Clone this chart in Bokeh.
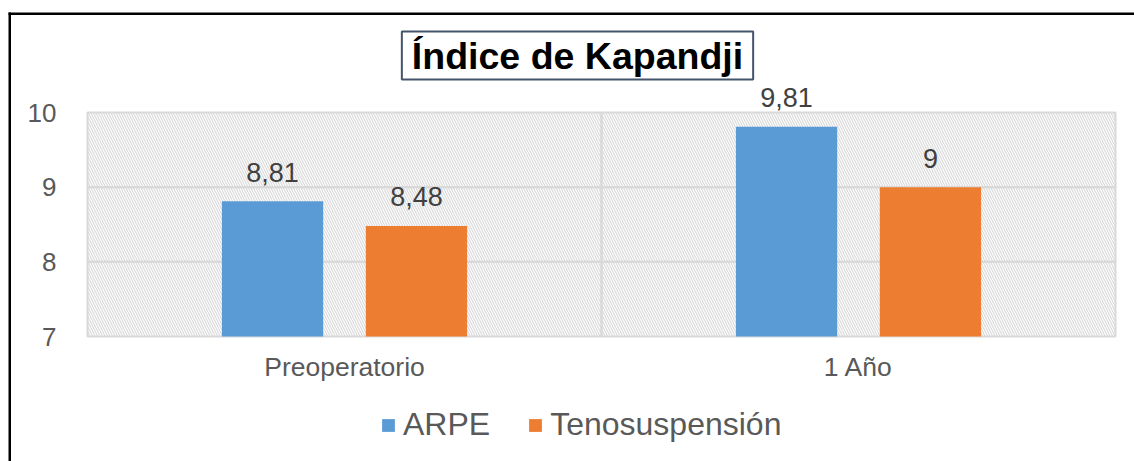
from bokeh.plotting import figure
from bokeh.models import (Range1d, FixedTicker, BoxAnnotation, Label, Legend, LegendItem,
                          ColumnDataSource)
from bokeh.transform import dodge
from bokeh.embed import file_html
from bokeh.resources import INLINE
from bokeh.core.properties import value

categories = ["Preoperatorio", "1 Año"]
series_names = ["ARPE", "Tenosuspensión"]
arpe = [8.81, 9.81]
teno = [8.48, 9.0]
arpe_labels = ["8,81", "9,81"]
teno_labels = ["8,48", "9"]
y_ticks = [7, 8, 9, 10]
colors = ["#5b9bd5", "#ed7d31"]

# ---- layout (pixels) ----
W, H = 1134, 461
PL, PR, PT, PB = 87, 1115, 112, 336          # plot area edges in canvas pixels
n = len(categories)
ymin, ymax = y_ticks[0], y_ticks[-1]
xpp = n / (PR - PL)
ypp = (ymax - ymin) / (PB - PT)
def fx(px):
    return (px - PL) * xpp
def fy(py):
    return ymax - (py - PT) * ypp

xc = [i + 0.5 for i in range(n)]
src = ColumnDataSource(dict(x=xc, arpe=arpe, teno=teno, al=arpe_labels, tl=teno_labels))

p = figure(width=W, height=H, output_backend="svg", toolbar_location=None,
           x_range=Range1d(fx(0), fx(W)), y_range=Range1d(fy(H), fy(0)))
p.min_border = 0
p.min_border_left = p.min_border_right = p.min_border_top = p.min_border_bottom = 0
p.background_fill_color = "white"
p.border_fill_color = "white"
p.outline_line_color = None
p.xgrid.visible = False
p.ygrid.visible = False

FONT = "Liberation Sans"

# hatched plot area cells (category x tick interval) -> gives grid lines and divider
for i in range(n):
    for k in range(len(y_ticks) - 1):
        p.add_layout(BoxAnnotation(left=i, right=i + 1, bottom=y_ticks[k], top=y_ticks[k + 1],
                                   fill_color=None, line_color="#d9d9d9", line_alpha=1,
                                   line_width=2, hatch_pattern="\\", hatch_color="#dadada",
                                   hatch_alpha=1, hatch_scale=5, hatch_weight=1.2,
                                   level="image"))

bw = 0.197
off = 0.14
r1 = p.vbar(x=dodge("x", -off, range=p.x_range), top="arpe", bottom=ymin, width=bw,
            source=src, fill_color=colors[0], line_color=None)
r2 = p.vbar(x=dodge("x", off, range=p.x_range), top="teno", bottom=ymin, width=bw,
            source=src, fill_color=colors[1], line_color=None)
p.text(x=dodge("x", -off, range=p.x_range), y="arpe", text="al", source=src, y_offset=-29,
       text_align="center", text_baseline="alphabetic", text_font=value(FONT),
       text_font_size="27px", text_color="#404040")
p.text(x=dodge("x", off, range=p.x_range), y="teno", text="tl", source=src, y_offset=-29,
       text_align="center", text_baseline="alphabetic", text_font=value(FONT),
       text_font_size="27px", text_color="#404040")

# axes drawn at the plot-area edges
p.yaxis.fixed_location = 0
p.yaxis.ticker = FixedTicker(ticks=y_ticks)
p.yaxis.axis_line_color = None
p.yaxis.major_tick_line_color = None
p.yaxis.minor_tick_line_color = None
p.yaxis.major_tick_out = 0
p.yaxis.major_label_text_font = FONT
p.yaxis.major_label_text_font_size = "26px"
p.yaxis.major_label_text_color = "#595959"
p.yaxis.major_label_standoff = 31

p.xaxis.fixed_location = ymin
p.xaxis.ticker = FixedTicker(ticks=xc)
p.xaxis.major_label_overrides = {x: c for x, c in zip(xc, categories)}
p.xaxis.axis_line_color = None
p.xaxis.major_tick_line_color = None
p.xaxis.minor_tick_line_color = None
p.xaxis.major_tick_out = 0
p.xaxis.major_label_text_font = FONT
p.xaxis.major_label_text_font_size = "26.5px"
p.xaxis.major_label_text_color = "#595959"
p.xaxis.major_label_standoff = 15

# title in a box
p.add_layout(Label(x=fx(577), y=fy(55), text="Índice de Kapandji", text_align="center",
                   text_baseline="middle", text_font=FONT, text_font_style="bold",
                   text_font_size="37.5px", text_color="black", border_line_color="#44546a",
                   border_line_width=2, background_fill_color="white", padding=(10, 3)))

# legend
legend = Legend(items=[LegendItem(label=series_names[0], renderers=[r1]),
                       LegendItem(label=series_names[1], renderers=[r2])],
                orientation="horizontal", location=(380, 18), border_line_color=None,
                background_fill_alpha=0, padding=0, margin=0, spacing=37,
                glyph_width=16, glyph_height=16, label_standoff=7,
                label_text_font=FONT, label_text_font_size="32px", label_text_color="#595959")
p.add_layout(legend)

# outer chart border (only the left and top edges fall inside the picture)
p.add_layout(BoxAnnotation(left=fx(8), right=fx(10.5), top=fy(12), bottom=fy(H + 30),
                           fill_color="black", fill_alpha=1, line_color=None, level="overlay"))
p.add_layout(BoxAnnotation(left=fx(8), right=fx(W + 30), top=fy(12), bottom=fy(14.5),
                           fill_color="black", fill_alpha=1, line_color=None, level="overlay"))

open("out.html", "w").write(file_html(p, INLINE))
